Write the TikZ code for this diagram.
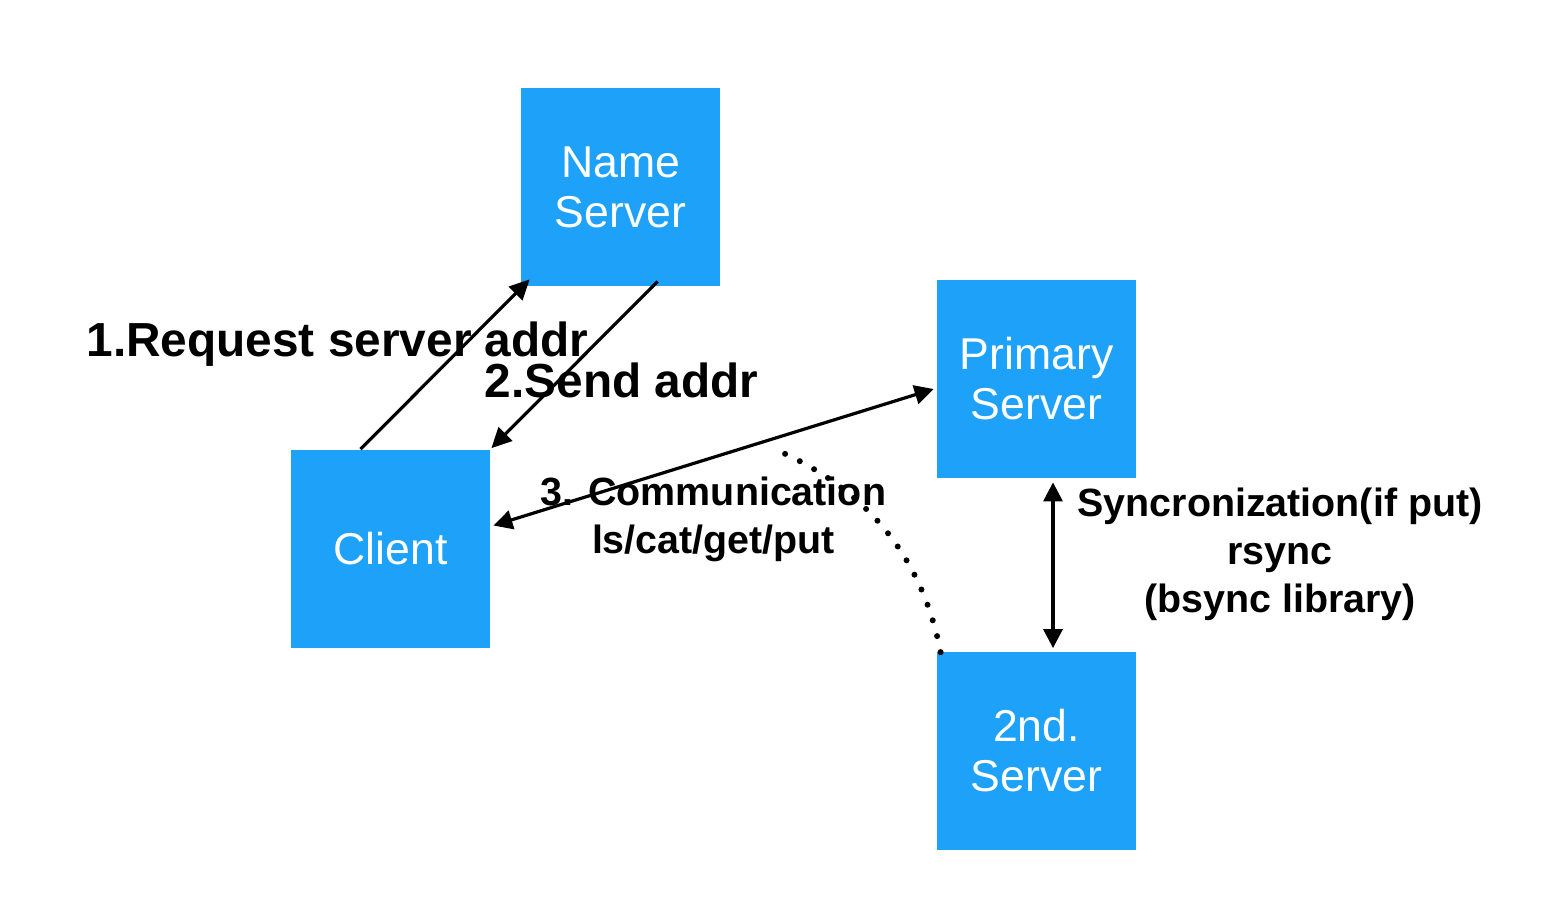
\documentclass[tikz,border=0pt]{standalone}
\usepackage{fontspec}
\setmainfont{Liberation Sans}
\usetikzlibrary{arrows.meta,calc}
\definecolor{boxblue}{RGB}{29,161,249}
\tikzset{
  srvbox/.style={fill=boxblue, draw=none, text=white, minimum width=99.5pt, minimum height=99pt,
    inner sep=0pt, align=center, font=\fontsize{22.3}{25}\selectfont},
  biglabel/.style={font=\bfseries\fontsize{23.9}{27}\selectfont, inner sep=0pt, anchor=base},
  midlabel/.style={font=\bfseries\fontsize{19.7}{24}\selectfont, inner sep=0pt, align=center, anchor=base},
  conn/.style={line width=1.6pt, -{Triangle[length=10pt,width=9.5pt]}},
  dconn/.style={line width=1.6pt, {Triangle[length=9.5pt,width=9.5pt]}-{Triangle[length=9.5pt,width=9.5pt]}},
  dotline/.style={line width=3pt, line cap=round, dash pattern=on 0pt off 8.2pt}
}
\begin{document}
\begin{tikzpicture}[x=0.5pt,y=-0.5pt]
\useasboundingbox (0,0) rectangle (1546,902);
\node[srvbox] (ns) at (620.5,187) {Name\\Server};
\node[srvbox] (ps) at (1036.5,379) {Primary\\Server};
\node[srvbox] (cl) at (390.5,548.5) {Client};
\node[srvbox] (sd) at (1036.5,750.5) {2nd.\\Server};
\coordinate (dotend) at (779,451);

\draw[conn] ($(cl.north west)+(70,0)$) -- ($(ns.south west)+(9,-7)$);
\draw[conn] ($(ns.south west)+(137,-5)$) -- ($(cl.north east)+(1,-1)$);
\draw[dconn] ($(cl.east)+(3,-23)$) -- ($(ps.west)+(-3,10)$);
\draw[dconn] ($(ps.south)+(16.5,4)$) -- ($(sd.north)+(16.5,-3)$);
\draw[dotline] ($(sd.north west)+(4,1)$) .. controls (922.3,558) and (868.3,491) .. (dotend);

\node[biglabel] (l1) at (337.5,356) {1.Request server addr};
\node[biglabel] (l2) at (621.5,397) {2.Send addr};
\node[midlabel] (l3) at (713.5,553) {3. Communication\\ls/cat/get/put};
\node[midlabel] (l4) at (1280,612) {Syncronization(if put)\\rsync\\(bsync library)};
\end{tikzpicture}
\end{document}
